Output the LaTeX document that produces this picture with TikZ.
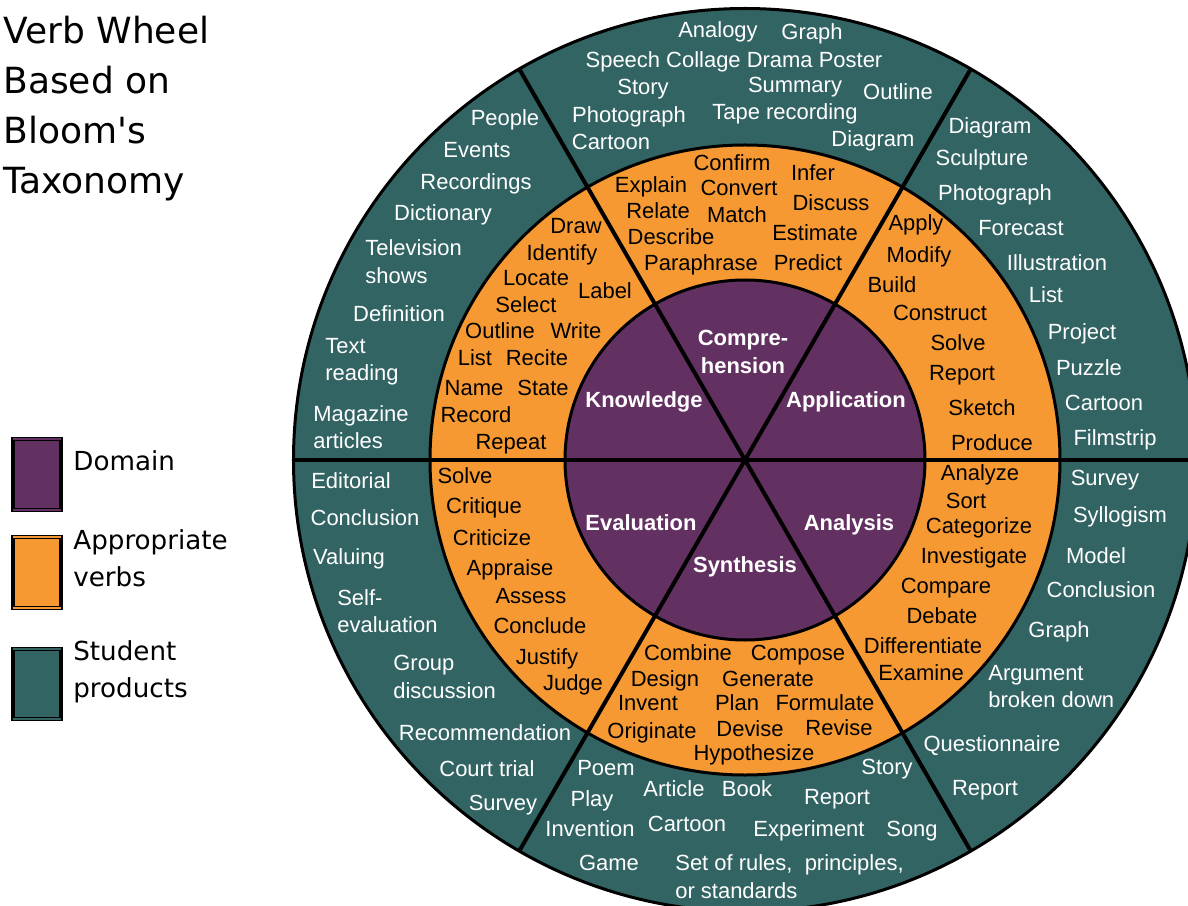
\documentclass[tikz,border=0pt]{standalone}
\usepackage{fontspec}
\setmainfont{Liberation Sans}
\newfontfamily\verdana{DejaVu Sans}
\definecolor{domainpurple}{RGB}{99, 48, 98}
\definecolor{verborange}{RGB}{246, 153, 50}
\definecolor{productteal}{RGB}{50, 100, 99}
\newcommand{\wheelfont}{\fontsize{12.5}{15.6}\selectfont}

\begin{document}
\begin{tikzpicture}
  [
    ring/.style={draw=black, line width=0.06cm},
    spoke/.style={black, line width=0.08cm},
    word/.style={inner sep=0pt, font=\wheelfont, text height=9pt, text depth=0pt},
    lines/.style={inner sep=0pt, font=\wheelfont, align=left, anchor=west},
    verb/.style={word, text=black},
    product/.style={word, text=white},
    products2/.style={lines, text=white},
    domainlabel/.style={word, text=white, font=\wheelfont\bfseries},
    key/.style={draw=black, line width=0.08cm},
    keyline/.style={line width=0.025cm},
    keytext/.style={inner sep=0pt, anchor=north west, align=left, font=\verdana\fontsize{14.9}{20.8}\selectfont}
  ]
  \useasboundingbox (-14.9, -8.9) rectangle (8.86, 9.2);
  \clip (-14.9, -8.9) rectangle (8.86, 9.2);

  % title and key
  \node[anchor=north west, inner sep=0pt, align=left, font=\verdana\fontsize{20.5}{28.45}\selectfont]
    (title) at (-14.84, 8.89) {Verb Wheel\\Based on\\Bloom's\\Taxonomy};

  \draw[key, fill=domainpurple] (-14.64, 0.42) rectangle (-13.68, -1.00);
  \draw[keyline, draw=domainpurple] (-14.64, 0.42) -- (-13.68, 0.42);
  \draw[keyline, draw=domainpurple] (-14.64, -1.00) -- (-13.68, -1.00);
  \node[keytext] (key-domain) at (-13.44, 0.19) {Domain};

  \draw[key, fill=verborange] (-14.64, -1.54) rectangle (-13.68, -2.96);
  \draw[keyline, draw=verborange] (-14.64, -1.54) -- (-13.68, -1.54);
  \draw[keyline, draw=verborange] (-14.64, -2.96) -- (-13.68, -2.96);
  \node[keytext] (key-verbs) at (-13.44, -1.39) {Appropriate\\verbs};

  \draw[key, fill=productteal] (-14.64, -3.78) rectangle (-13.68, -5.18);
  \draw[keyline, draw=productteal] (-14.64, -3.78) -- (-13.68, -3.78);
  \draw[keyline, draw=productteal] (-14.64, -5.18) -- (-13.68, -5.18);
  \node[keytext] (key-products) at (-13.44, -3.61) {Student\\products};

  % the wheel
  \draw[ring, fill=productteal] (0, 0) circle[radius=9.03];
  \draw[ring, fill=verborange] (0, 0) circle[radius=6.30];
  \draw[ring, fill=domainpurple] (0, 0) circle[radius=3.60];
  \draw[spoke] (0:9.03) -- (180:9.03);
  \draw[spoke] (60:9.03) -- (240:9.03);
  \draw[spoke] (120:9.03) -- (300:9.03);

  % domains
  \node[domainlabel] (knowledge) at (-2.02, 1.20) {Knowledge};
  \node[lines, text=white, font=\wheelfont\bfseries, align=center, anchor=center]
    (comprehension) at (-0.04, 2.16) {Compre-\\hension};
  \node[domainlabel] (application) at (2.02, 1.20) {Application};
  \node[domainlabel] (analysis) at (2.08, -1.26) {Analysis};
  \node[domainlabel] (synthesis) at (0.00, -2.10) {Synthesis};
  \node[domainlabel] (evaluation) at (-2.08, -1.26) {Evaluation};

  % knowledge
  \node[verb] (kv-draw) at (-3.38, 4.68) {Draw};
  \node[verb] (kv-identify) at (-3.66, 4.14) {Identify};
  \node[verb] (kv-locate) at (-4.18, 3.64) {Locate};
  \node[verb] (kv-label) at (-2.80, 3.38) {Label};
  \node[verb] (kv-select) at (-4.38, 3.10) {Select};
  \node[verb] (kv-outline) at (-4.90, 2.58) {Outline};
  \node[verb] (kv-write) at (-3.38, 2.58) {Write};
  \node[verb] (kv-list) at (-5.40, 2.04) {List};
  \node[verb] (kv-recite) at (-4.16, 2.04) {Recite};
  \node[verb] (kv-name) at (-5.42, 1.44) {Name};
  \node[verb] (kv-state) at (-4.04, 1.44) {State};
  \node[verb] (kv-record) at (-5.38, 0.90) {Record};
  \node[verb] (kv-repeat) at (-4.68, 0.36) {Repeat};

  \node[product] (kp-people) at (-4.80, 6.84) {People};
  \node[product] (kp-events) at (-5.36, 6.20) {Events};
  \node[product] (kp-recordings) at (-5.38, 5.56) {Recordings};
  \node[product] (kp-dictionary) at (-6.04, 4.94) {Dictionary};
  \node[products2] (kp-television) at (-7.60, 3.97) {Television\\shows};
  \node[product] (kp-definition) at (-6.92, 2.92) {Definition};
  \node[products2] (kp-text) at (-8.40, 1.96) {Text\\reading};
  \node[products2] (kp-magazine) at (-8.64, 0.66) {Magazine\\articles};

  % comprehension
  \node[verb] (cv-confirm) at (-0.26, 5.94) {Confirm};
  \node[verb] (cv-infer) at (1.36, 5.74) {Infer};
  \node[verb] (cv-explain) at (-1.88, 5.50) {Explain};
  \node[verb] (cv-convert) at (-0.12, 5.44) {Convert};
  \node[verb] (cv-discuss) at (1.72, 5.14) {Discuss};
  \node[verb] (cv-relate) at (-1.74, 4.98) {Relate};
  \node[verb] (cv-match) at (-0.16, 4.90) {Match};
  \node[verb] (cv-describe) at (-1.48, 4.46) {Describe};
  \node[verb] (cv-estimate) at (1.40, 4.54) {Estimate};
  \node[verb] (cv-paraphrase) at (-0.88, 3.94) {Paraphrase};
  \node[verb] (cv-predict) at (1.26, 3.94) {Predict};

  \node[product] (cp-analogy) at (-0.54, 8.60) {Analogy};
  \node[product] (cp-graph) at (1.34, 8.56) {Graph};
  \node[product] (cp-speech) at (-0.22, 8.00) {Speech Collage Drama Poster};
  \node[product] (cp-story) at (-2.04, 7.46) {Story};
  \node[product] (cp-summary) at (1.00, 7.50) {Summary};
  \node[product] (cp-outline) at (3.06, 7.36) {Outline};
  \node[product] (cp-photograph) at (-2.32, 6.90) {Photograph};
  \node[product] (cp-tape) at (0.80, 6.96) {Tape recording};
  \node[product] (cp-cartoon) at (-2.68, 6.36) {Cartoon};
  \node[product] (cp-diagram) at (2.56, 6.42) {Diagram};

  % application
  \node[verb] (apv-apply) at (3.42, 4.74) {Apply};
  \node[verb] (apv-modify) at (3.48, 4.10) {Modify};
  \node[verb] (apv-build) at (2.94, 3.50) {Build};
  \node[verb] (apv-construct) at (3.90, 2.94) {Construct};
  \node[verb] (apv-solve) at (4.26, 2.34) {Solve};
  \node[verb] (apv-report) at (4.34, 1.74) {Report};
  \node[verb] (apv-sketch) at (4.74, 1.04) {Sketch};
  \node[verb] (apv-produce) at (4.94, 0.34) {Produce};

  \node[product] (app-diagram) at (4.90, 6.68) {Diagram};
  \node[product] (app-sculpture) at (4.74, 6.04) {Sculpture};
  \node[product] (app-photograph) at (5.00, 5.34) {Photograph};
  \node[product] (app-forecast) at (5.52, 4.64) {Forecast};
  \node[product] (app-illustration) at (6.24, 3.94) {Illustration};
  \node[product] (app-list) at (6.02, 3.30) {List};
  \node[product] (app-project) at (6.74, 2.56) {Project};
  \node[product] (app-puzzle) at (6.88, 1.84) {Puzzle};
  \node[product] (app-cartoon) at (7.18, 1.14) {Cartoon};
  \node[product] (app-filmstrip) at (7.40, 0.44) {Filmstrip};

  % analysis
  \node[verb] (anv-analyze) at (4.70, -0.26) {Analyze};
  \node[verb] (anv-sort) at (4.42, -0.82) {Sort};
  \node[verb] (anv-categorize) at (4.68, -1.32) {Categorize};
  \node[verb] (anv-investigate) at (4.58, -1.92) {Investigate};
  \node[verb] (anv-compare) at (4.02, -2.52) {Compare};
  \node[verb] (anv-debate) at (3.94, -3.12) {Debate};
  \node[verb] (anv-differentiate) at (3.56, -3.72) {Differentiate};
  \node[verb] (anv-examine) at (3.52, -4.26) {Examine};

  \node[product] (anp-survey) at (7.20, -0.36) {Survey};
  \node[product] (anp-syllogism) at (7.50, -1.10) {Syllogism};
  \node[product] (anp-model) at (7.02, -1.92) {Model};
  \node[product] (anp-conclusion) at (7.12, -2.60) {Conclusion};
  \node[product] (anp-graph) at (6.28, -3.40) {Graph};
  \node[products2] (anp-argument) at (4.86, -4.53) {Argument\\broken down};
  \node[product] (anp-questionnaire) at (4.94, -5.68) {Questionnaire};
  \node[product] (anp-report) at (4.80, -6.56) {Report};

  % synthesis
  \node[verb] (sv-combine) at (-1.14, -3.86) {Combine};
  \node[verb] (sv-compose) at (1.06, -3.86) {Compose};
  \node[verb] (sv-design) at (-1.60, -4.38) {Design};
  \node[verb] (sv-generate) at (0.46, -4.38) {Generate};
  \node[verb] (sv-invent) at (-1.94, -4.86) {Invent};
  \node[verb] (sv-plan) at (-0.16, -4.86) {Plan};
  \node[verb] (sv-formulate) at (1.60, -4.86) {Formulate};
  \node[verb] (sv-originate) at (-1.86, -5.42) {Originate};
  \node[verb] (sv-devise) at (0.10, -5.38) {Devise};
  \node[verb] (sv-revise) at (1.88, -5.36) {Revise};
  \node[verb] (sv-hypothesize) at (0.18, -5.86) {Hypothesize};

  \node[product] (sp-poem) at (-2.78, -6.16) {Poem};
  \node[product] (sp-article) at (-1.42, -6.58) {Article};
  \node[product] (sp-book) at (0.04, -6.58) {Book};
  \node[product] (sp-report) at (1.84, -6.74) {Report};
  \node[product] (sp-story) at (2.84, -6.14) {Story};
  \node[product] (sp-play) at (-3.06, -6.78) {Play};
  \node[product] (sp-invention) at (-3.10, -7.38) {Invention};
  \node[product] (sp-cartoon) at (-1.16, -7.28) {Cartoon};
  \node[product] (sp-experiment) at (1.28, -7.38) {Experiment};
  \node[product] (sp-song) at (3.34, -7.38) {Song};
  \node[product] (sp-game) at (-2.72, -8.06) {Game};
  \node[products2] (sp-rules) at (-1.40, -8.33) {Set of rules,\ \ principles,\\or standards};

  % evaluation
  \node[verb] (ev-solve) at (-5.60, -0.32) {Solve};
  \node[verb] (ev-critique) at (-5.22, -0.92) {Critique};
  \node[verb] (ev-criticize) at (-5.06, -1.56) {Criticize};
  \node[verb] (ev-appraise) at (-4.70, -2.16) {Appraise};
  \node[verb] (ev-assess) at (-4.28, -2.72) {Assess};
  \node[verb] (ev-conclude) at (-4.10, -3.32) {Conclude};
  \node[verb] (ev-justify) at (-3.96, -3.94) {Justify};
  \node[verb] (ev-judge) at (-3.44, -4.46) {Judge};

  \node[product] (ep-editorial) at (-7.88, -0.42) {Editorial};
  \node[product] (ep-conclusion) at (-7.60, -1.16) {Conclusion};
  \node[product] (ep-valuing) at (-7.92, -1.94) {Valuing};
  \node[products2] (ep-self) at (-8.16, -3.02) {Self-\\evaluation};
  \node[products2] (ep-group) at (-7.04, -4.34) {Group\\discussion};
  \node[product] (ep-recommendation) at (-5.20, -5.46) {Recommendation};
  \node[product] (ep-court) at (-5.16, -6.18) {Court trial};
  \node[product] (ep-survey) at (-4.84, -6.86) {Survey};

\end{tikzpicture}
\end{document}
